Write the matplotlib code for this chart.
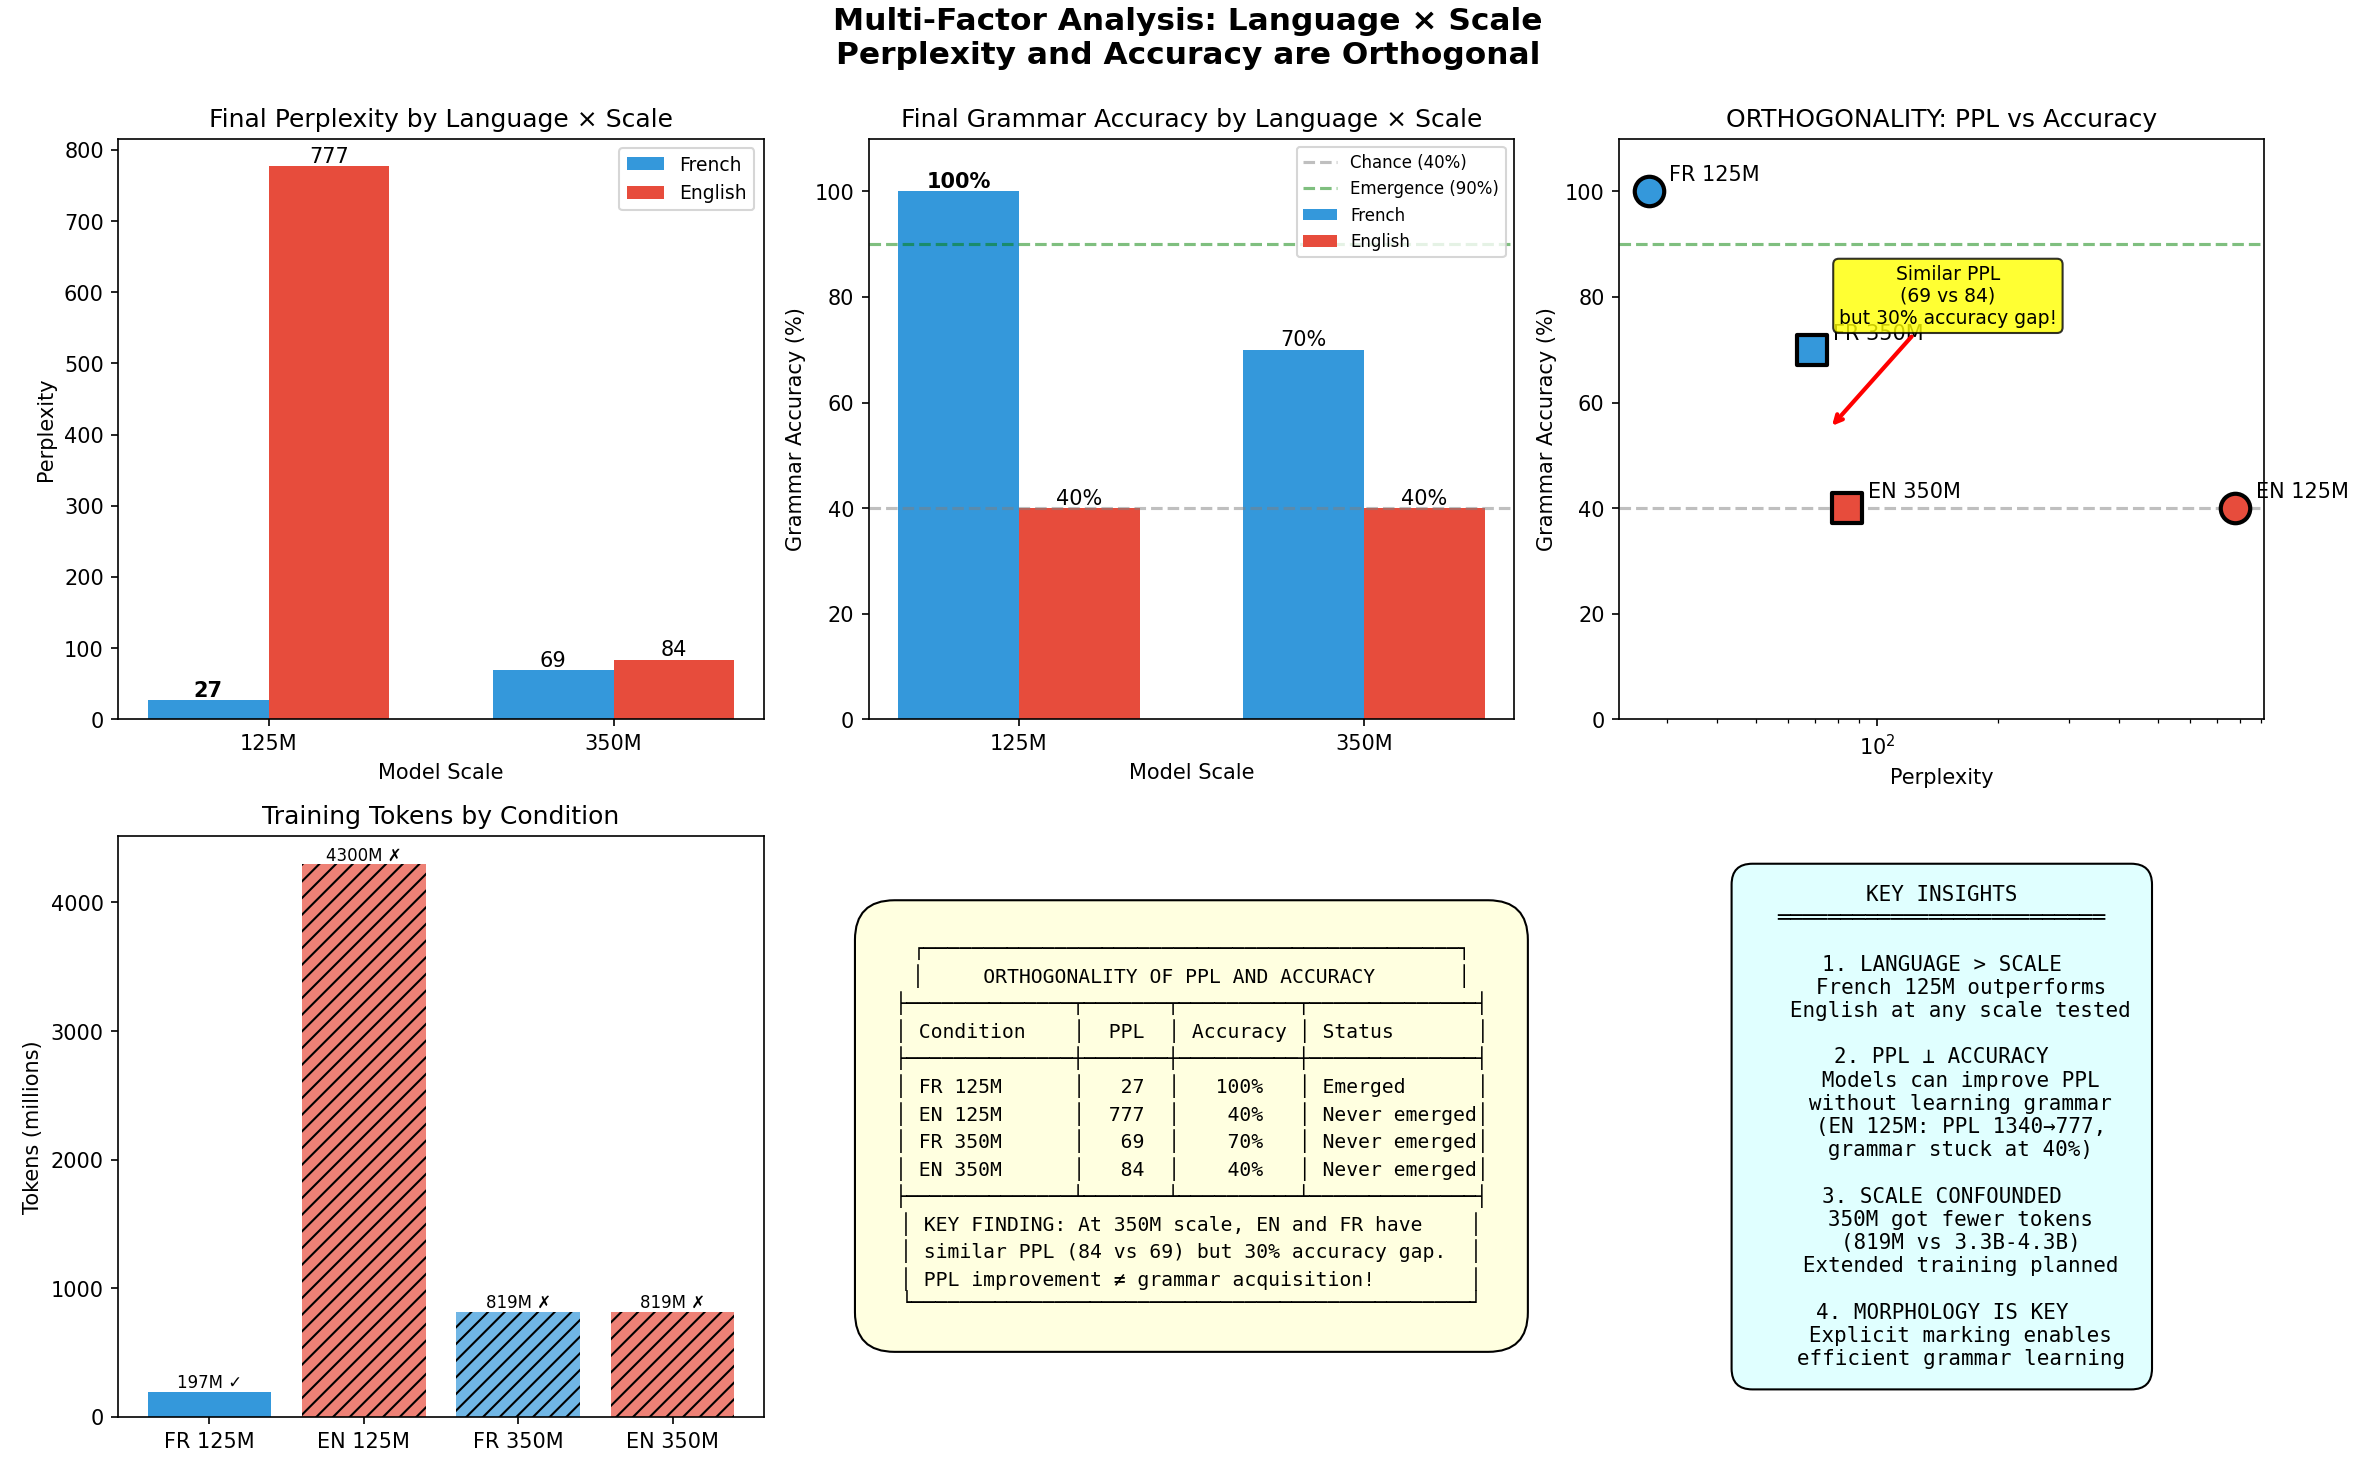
import matplotlib.pyplot as plt
import numpy as np

# data
scales = ['125M', '350M']
ppl_fr = [27, 69]
ppl_en = [777, 84]
acc_fr = [100, 70]
acc_en = [40, 40]
cond_labels = ['FR 125M', 'EN 125M', 'FR 350M', 'EN 350M']
tokens = [197, 4300, 819, 819]
token_marks = ['✓', '✗', '✗', '✗']
blue = '#3498db'
red = '#e74c3c'

fig = plt.figure(figsize=(15.84, 9.83), dpi=150)
fig.suptitle('Multi-Factor Analysis: Language × Scale\nPerplexity and Accuracy are Orthogonal',
             fontsize=15, fontweight='bold', y=0.995)

x = np.arange(len(scales))
w = 0.35

# Perplexity bars
ax1 = fig.add_subplot(2, 3, 1)
b1 = ax1.bar(x - w/2, ppl_fr, w, color=blue, label='French')
b2 = ax1.bar(x + w/2, ppl_en, w, color=red, label='English')
for i, b in enumerate(b1):
    ax1.text(b.get_x() + b.get_width()/2, b.get_height(), f'{ppl_fr[i]}', ha='center', va='bottom',
             fontweight='bold' if i == 0 else 'normal')
for i, b in enumerate(b2):
    ax1.text(b.get_x() + b.get_width()/2, b.get_height(), f'{ppl_en[i]}', ha='center', va='bottom')
ax1.set_xticks(x)
ax1.set_xticklabels(scales)
ax1.set_xlabel('Model Scale')
ax1.set_ylabel('Perplexity')
ax1.set_title('Final Perplexity by Language × Scale')
ax1.legend(fontsize=9)

# Accuracy bars
ax2 = fig.add_subplot(2, 3, 2)
ax2.axhline(40, color='gray', ls='--', alpha=0.5, label='Chance (40%)')
ax2.axhline(90, color='green', ls='--', alpha=0.5, label='Emergence (90%)')
b1 = ax2.bar(x - w/2, acc_fr, w, color=blue, label='French')
b2 = ax2.bar(x + w/2, acc_en, w, color=red, label='English')
for i, b in enumerate(b1):
    ax2.text(b.get_x() + b.get_width()/2, b.get_height(), f'{acc_fr[i]}%', ha='center', va='bottom',
             fontweight='bold' if i == 0 else 'normal')
for i, b in enumerate(b2):
    ax2.text(b.get_x() + b.get_width()/2, b.get_height(), f'{acc_en[i]}%', ha='center', va='bottom')
ax2.set_xticks(x)
ax2.set_xticklabels(scales)
ax2.set_ylim(0, 110)
ax2.set_xlabel('Model Scale')
ax2.set_ylabel('Grammar Accuracy (%)')
ax2.set_title('Final Grammar Accuracy by Language × Scale')
ax2.legend(fontsize=8)

# Scatter
ax3 = fig.add_subplot(2, 3, 3)
pts = [('FR 125M', ppl_fr[0], acc_fr[0], blue, 'o'),
       ('FR 350M', ppl_fr[1], acc_fr[1], blue, 's'),
       ('EN 350M', ppl_en[1], acc_en[1], red, 's'),
       ('EN 125M', ppl_en[0], acc_en[0], red, 'o')]
for name, px, py, c, m in pts:
    ax3.scatter(px, py, s=200, c=c, marker=m, edgecolors='black', linewidths=2, zorder=3)
    ax3.annotate(name, (px, py), xytext=(10, 5), textcoords='offset points', fontsize=10)
ax3.axhline(40, color='gray', ls='--', alpha=0.5)
ax3.axhline(90, color='green', ls='--', alpha=0.5)
ax3.annotate('Similar PPL\n(69 vs 84)\nbut 30% accuracy gap!', xy=(76, 55), xytext=(150, 75),
             fontsize=9, ha='center',
             bbox=dict(boxstyle='round', facecolor='yellow', alpha=0.8),
             arrowprops=dict(arrowstyle='->', color='red', lw=2))
ax3.set_xscale('log')
ax3.set_ylim(0, 110)
ax3.set_xlabel('Perplexity')
ax3.set_ylabel('Grammar Accuracy (%)')
ax3.set_title('ORTHOGONALITY: PPL vs Accuracy')

# Tokens
ax4 = fig.add_subplot(2, 3, 4)
cols = [blue, red, blue, red]
hatches = ['', '///', '///', '///']
bars = ax4.bar(cond_labels, tokens, color=cols, hatch=hatches, alpha=[1, 0.7, 0.7, 0.7] if False else None)
for b, h, t in zip(bars, hatches, token_marks):
    if h:
        b.set_alpha(0.7)
    ax4.text(b.get_x() + b.get_width()/2, b.get_height(), f'{int(b.get_height())}M {t}',
             ha='center', va='bottom', fontsize=8)
ax4.set_ylabel('Tokens (millions)')
ax4.set_title('Training Tokens by Condition')

# Table text
ax5 = fig.add_subplot(2, 3, 5)
ax5.axis('off')
table = (
    "┌─────────────────────────────────────────────┐\n"
    "│     ORTHOGONALITY OF PPL AND ACCURACY       │\n"
    "├──────────────┬───────┬──────────┬──────────────┤\n"
    "│ Condition    │  PPL  │ Accuracy │ Status       │\n"
    "├──────────────┼───────┼──────────┼──────────────┤\n"
    "│ FR 125M      │   27  │   100%   │ Emerged      │\n"
    "│ EN 125M      │  777  │    40%   │ Never emerged│\n"
    "│ FR 350M      │   69  │    70%   │ Never emerged│\n"
    "│ EN 350M      │   84  │    40%   │ Never emerged│\n"
    "├──────────────┴───────┴──────────┴──────────────┤\n"
    "│ KEY FINDING: At 350M scale, EN and FR have    │\n"
    "│ similar PPL (84 vs 69) but 30% accuracy gap.  │\n"
    "│ PPL improvement ≠ grammar acquisition!        │\n"
    "└───────────────────────────────────────────────┘"
)
ax5.text(0.5, 0.5, table, transform=ax5.transAxes, ha='center', va='center',
         family='monospace', fontsize=9.5,
         bbox=dict(boxstyle='round', facecolor='lightyellow', pad=2))

# Insights
ax6 = fig.add_subplot(2, 3, 6)
ax6.axis('off')
insights = (
    "KEY INSIGHTS\n"
    "══════════════════════════\n\n"
    "1. LANGUAGE > SCALE\n"
    "   French 125M outperforms\n"
    "   English at any scale tested\n\n"
    "2. PPL ⊥ ACCURACY\n"
    "   Models can improve PPL\n"
    "   without learning grammar\n"
    "   (EN 125M: PPL 1340→777,\n"
    "   grammar stuck at 40%)\n\n"
    "3. SCALE CONFOUNDED\n"
    "   350M got fewer tokens\n"
    "   (819M vs 3.3B-4.3B)\n"
    "   Extended training planned\n\n"
    "4. MORPHOLOGY IS KEY\n"
    "   Explicit marking enables\n"
    "   efficient grammar learning"
)
ax6.text(0.5, 0.5, insights, transform=ax6.transAxes, ha='center', va='center',
         family='monospace', fontsize=10,
         bbox=dict(boxstyle='round', facecolor='lightcyan', pad=1))

plt.tight_layout()
plt.savefig('out.png', dpi=150)
